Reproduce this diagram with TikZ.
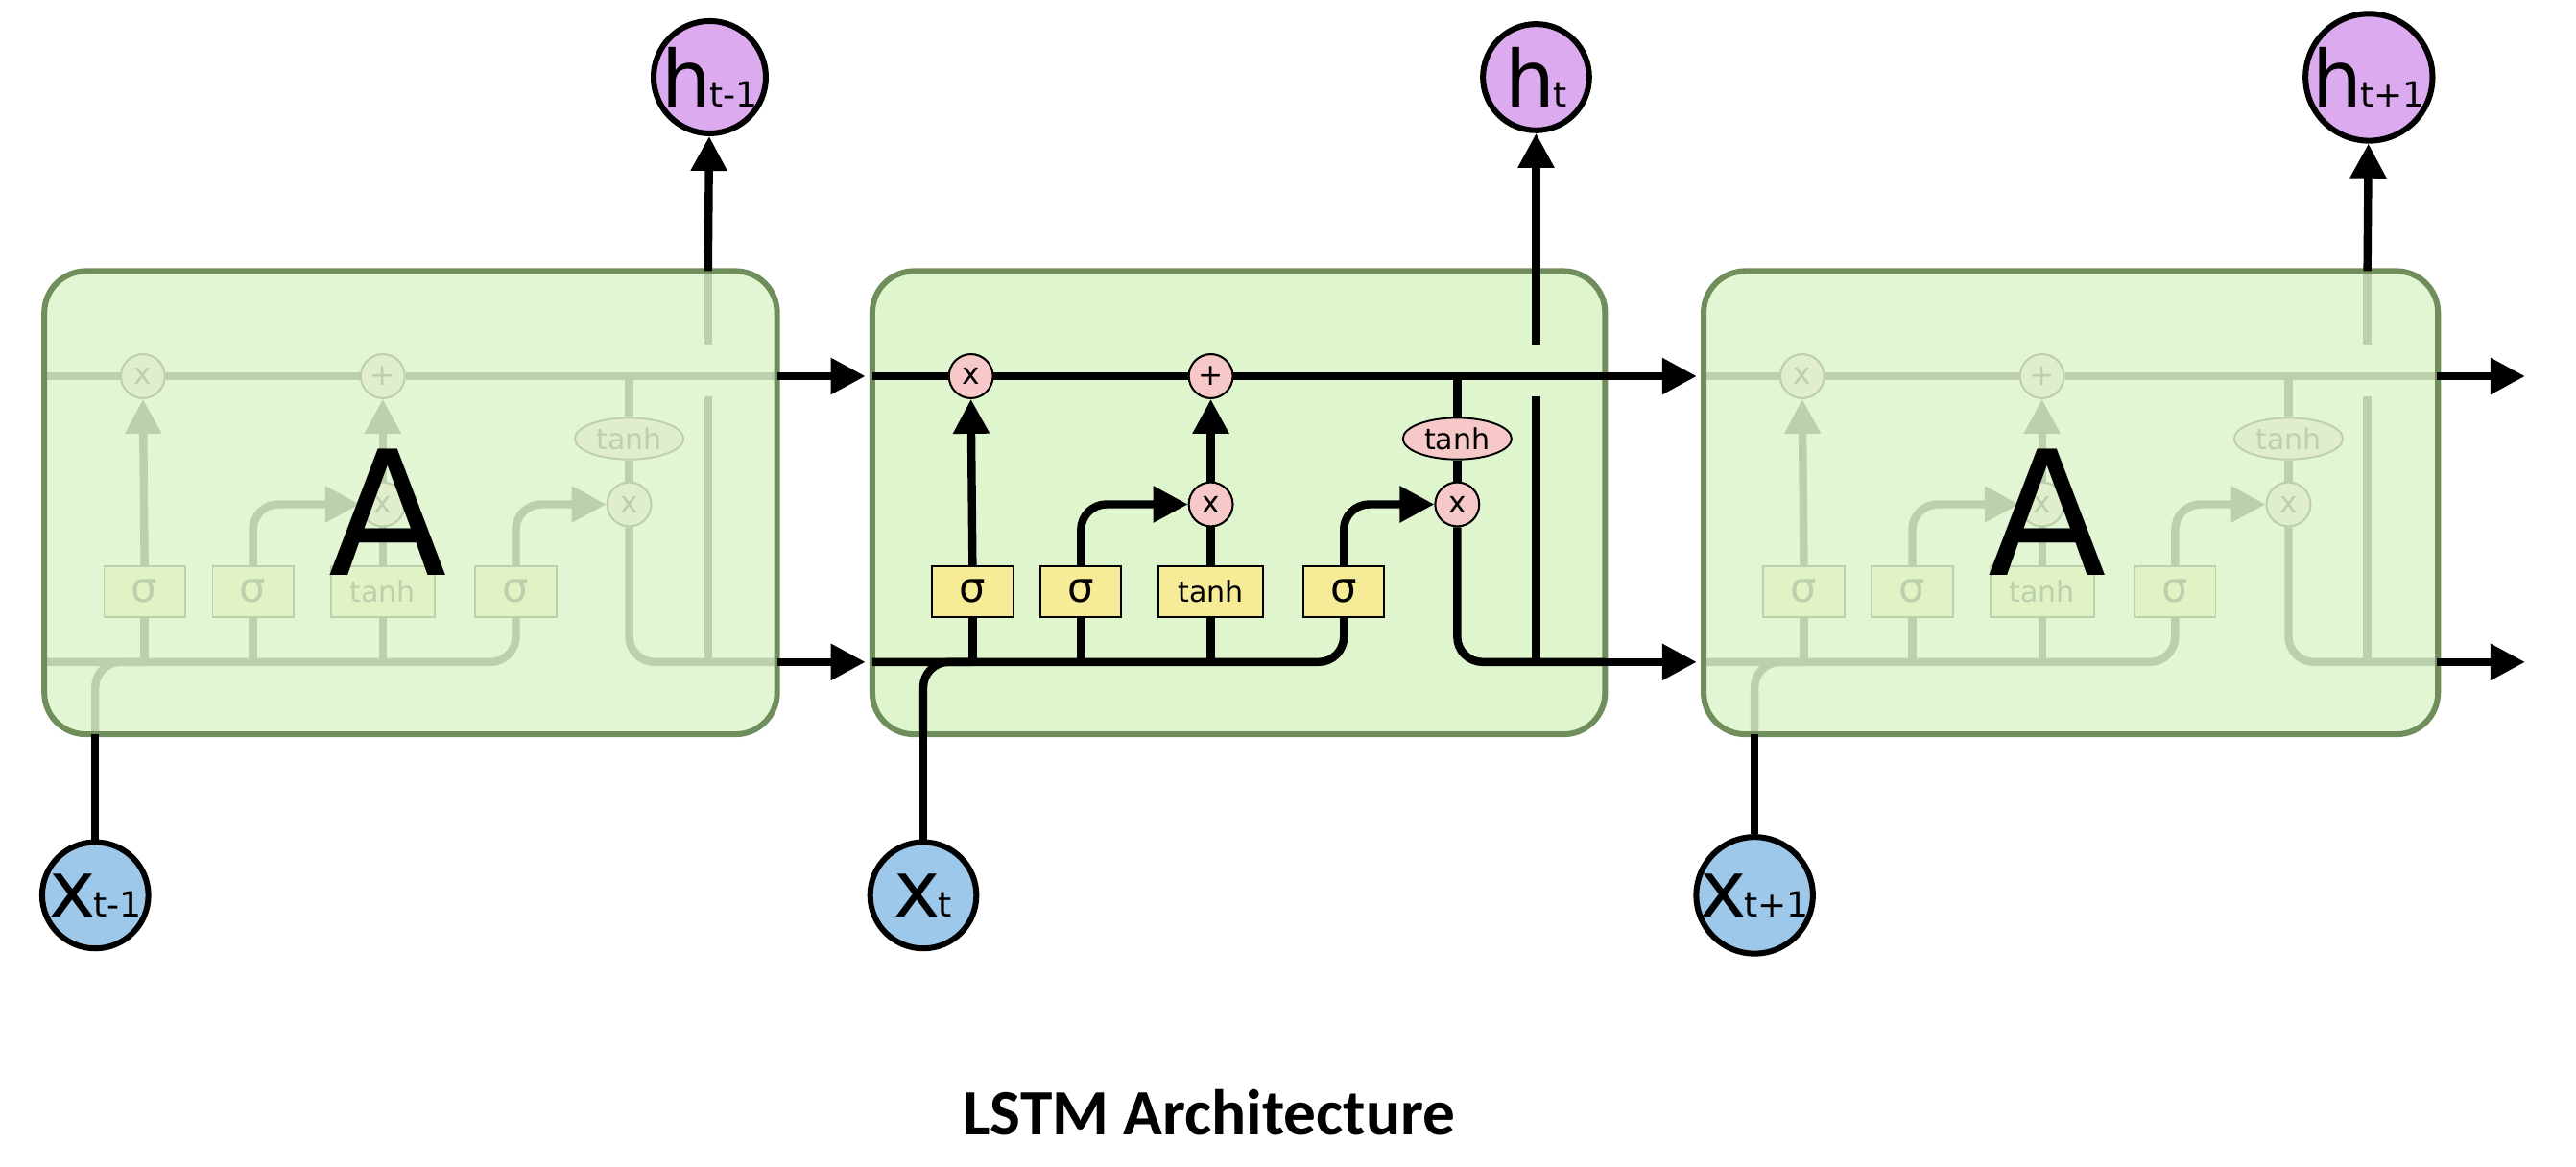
\documentclass[tikz,border=0pt]{standalone}
\usepackage{fontspec}
\setmainfont{DejaVu Sans}
\newfontfamily\titlefont{Carlito}
\usetikzlibrary{arrows.meta,shapes.geometric}
\definecolor{boxfill}{RGB}{222,245,205}
\definecolor{boxline}{RGB}{112,142,92}
\definecolor{pinkc}{RGB}{246,200,200}
\definecolor{yellowc}{RGB}{246,236,152}
\definecolor{purplec}{RGB}{220,170,238}
\definecolor{bluec}{RGB}{158,200,234}
\tikzset{
  x=0.05cm, y=-0.05cm,
  wire/.style={line width=7pt},
  arr/.style={wire,-{Triangle[length=30pt,width=30pt]}},
  rc/.style={rounded corners=22pt},
  op/.style={circle,draw,line width=1.6pt,fill=pinkc,minimum size=38pt,inner sep=0pt,font=\fontsize{26}{26}\selectfont},
  gate/.style={rectangle,draw,line width=1.6pt,fill=yellowc,minimum height=44pt,minimum width=70pt,inner sep=2pt,font=\fontsize{36}{36}\selectfont},
  tgate/.style={gate,minimum width=90pt,font=\fontsize{25}{25}\selectfont},
  tell/.style={ellipse,draw,line width=1.6pt,fill=pinkc,minimum width=94pt,minimum height=36pt,inner sep=0pt,font=\fontsize{25}{25}\selectfont},
  hc/.style={circle,draw,line width=5pt,fill=purplec,minimum size=92pt,inner sep=0pt},
  xc/.style={circle,draw,line width=5pt,fill=bluec,minimum size=92pt,inner sep=0pt},
  cellbox/.style={draw=boxline,line width=5pt,rounded corners=36pt},
}
\newcommand\mylbl[2]{{\fontsize{68}{68}\selectfont #1}\kern-2pt{\fontsize{30}{30}\selectfont #2}}
\newcommand\cellinner[2]{%
\begin{scope}[shift={(#2,0)}]
  \node[op] (#1m1) at (60,229) {x};
  \node[op] (#1p) at (206,229) {+};
  \node[op] (#1m2) at (206,307) {x};
  \node[op] (#1m3) at (356,307) {x};
  \node[tell] (#1th) at (356,267) {tanh};
  \node[gate] (#1s1) at (61,360) {σ};
  \node[gate] (#1s2) at (127,360) {σ};
  \node[tgate] (#1t) at (206,360) {tanh};
  \node[gate] (#1s3) at (287,360) {σ};
  \coordinate (#1cl) at (0,229); \coordinate (#1cr) at (446,229);
  \coordinate (#1hl) at (0,403); \coordinate (#1hr) at (446,403);
  \coordinate (#1xb) at (31,447);
  \coordinate (#1vb) at (404,403); \coordinate (#1vm) at (404,241);
  \coordinate (#1vt) at (404,210); \coordinate (#1top) at (404,165);
  \draw[wire] (#1cl) -- (#1m1) -- (#1p) -- (#1cr);
  \draw[wire,rc] (#1hl) -- (287,403) -- (#1s3.south);
  \draw[wire,rc] (#1xb) -- (31,403) -- (61,403);
  \draw[wire] (#1s1.south) -- (61,403);
  \draw[wire] (#1s2.south) -- (127,403);
  \draw[wire] (#1t.south) -- (206,403);
  \draw[arr] (#1s1.north) -- (#1m1.south);
  \draw[wire] (#1t.north) -- (#1m2.south);
  \draw[arr] (#1m2.north) -- (#1p.south);
  \draw[arr,rc] (#1s2.north) -- (127,307) -- (#1m2.west);
  \draw[arr,rc] (#1s3.north) -- (287,307) -- (#1m3.west);
  \draw[wire] (356,229) -- (#1th.north);
  \draw[wire] (#1th.south) -- (#1m3.north);
  \draw[wire,rc] (#1m3.south) -- (356,403) -- (#1hr);
  \draw[wire] (#1vb) -- (#1vm);
  \draw[wire] (#1vt) -- (#1top);
  \node[op] at (#1m1) {x}; \node[op] at (#1p) {+};
  \node[op] at (#1m2) {x}; \node[op] at (#1m3) {x};
\end{scope}}
\begin{document}
\begin{tikzpicture}
\useasboundingbox[fill=white] (0,0) rectangle (1568,710);
\draw[cellbox,fill=boxfill] (531,165) rectangle (977,447);
\cellinner{b}{531}
\cellinner{a}{27}
\cellinner{c}{1037}
\draw[cellbox,fill=boxfill,fill opacity=0.85] (27,165) rectangle (473,447);
\draw[cellbox,fill=boxfill,fill opacity=0.85] (1037,165) rectangle (1484,447);
\node[font=\fontsize{150}{150}\selectfont] (A1) at (236,312) {A};
\node[font=\fontsize{150}{150}\selectfont] (A3) at (1246,312) {A};
\node[hc] (h1) at (432,47) {\mylbl{h}{t-1}};
\node[hc] (h2) at (935,47) {\mylbl{h}{t}};
\node[hc] (h3) at (1442,47) {\mylbl{h}{t+1}};
\node[xc] (x1) at (58,545) {\mylbl{x}{t-1}};
\node[xc] (x2) at (562,545) {\mylbl{x}{t}};
\node[xc] (x3) at (1068,545) {\mylbl{x}{t+1}};
\draw[arr] (atop) -- (h1);
\draw[arr] (btop) -- (h2);
\draw[arr] (ctop) -- (h3);
\draw[wire] (x1) -- (axb);
\draw[wire] (x2) -- (bxb);
\draw[wire] (x3) -- (cxb);
\draw[arr] (acr) -- ([xshift=-6pt]bcl);
\draw[arr] (ahr) -- ([xshift=-6pt]bhl);
\draw[arr] (bcr) -- ([xshift=-6pt]ccl);
\draw[arr] (bhr) -- ([xshift=-6pt]chl);
\coordinate (o1) at (1537,229); \coordinate (o2) at (1537,403);
\draw[arr] (ccr) -- (o1);
\draw[arr] (chr) -- (o2);
\node[font=\titlefont\bfseries\fontsize{56}{60}\selectfont] (title) at (736,677) {LSTM Architecture};
\end{tikzpicture}
\end{document}
